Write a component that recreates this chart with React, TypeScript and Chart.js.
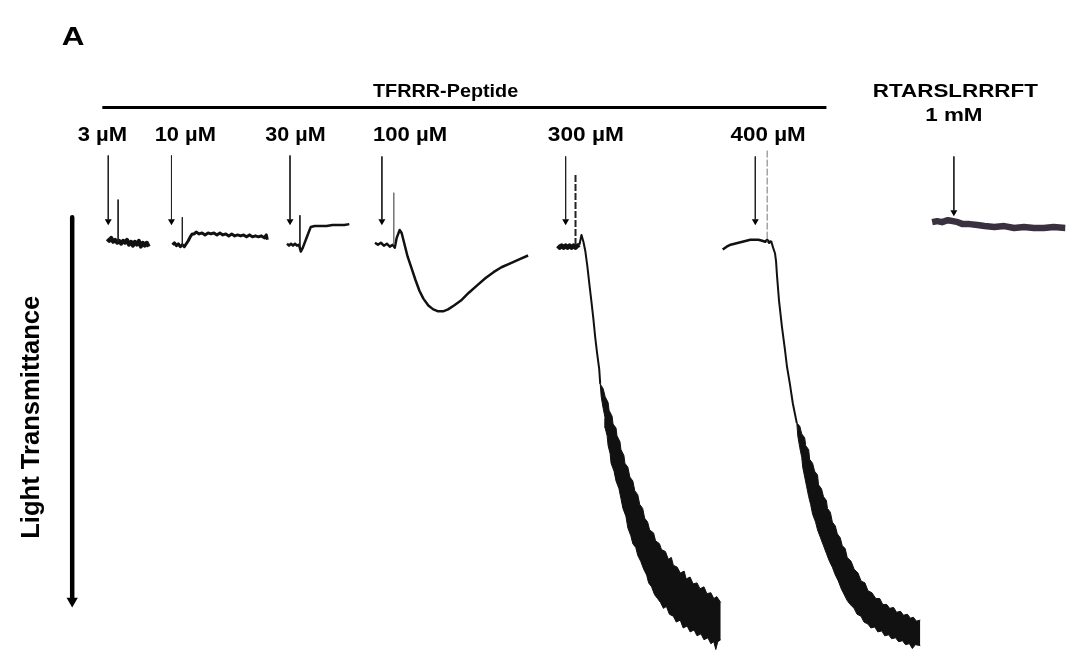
import { useEffect, useRef } from "react";
import { Chart, registerables } from "chart.js";

Chart.register(...registerables);

type P = [number, number];

// ---------- text content ----------
const panelLabel = "A";
const peptideLabel = "TFRRR-Peptide";
const doseLabels = ["3 µM", "10 µM", "30 µM", "100 µM", "300 µM", "400 µM"];
const controlLabels = ["RTARSLRRRFT", "1 mM"];
const yAxisLabel = "Light Transmittance";

// ---------- injection arrows (time, start, tip on transmittance axis) ----------
const injectionTime = [103, 167, 287, 380, 566, 758, 959];
const injectionTop = [152, 152, 152, 153, 153, 153, 153];
const injectionTip = [223, 223, 223, 223, 223, 223, 214];

// ---------- injection artefact spikes ----------
const spikeTime = [113, 178, 297, 392, 576, 770];
const spikeTop = [197, 215, 213, 190, 172, 147];
const spikeBase = [240, 245, 245, 243, 245, 240];

// ---------- peptide bar & transmittance axis ----------
const peptideBar: P[] = [[97, 103], [830, 103]];
const transmittanceAxis: P[] = [[66.5, 215], [66.5, 603]];
const transmittanceTip: P[] = [[66.5, 606.5]];

// ---------- traces (time, transmittance) ----------
const trace3uM: P[] = [
  [102, 237], [104, 239], [106, 236], [108, 240], [110, 238], [112, 241], [114, 239],
  [116, 242], [118, 239], [120, 241], [122, 238], [124, 243], [126, 240], [128, 244],
  [130, 240], [132, 243], [134, 239], [136, 245], [138, 241], [140, 244], [142, 241],
  [144, 245],
];
const trace10uM: P[] = [
  [168, 243], [170, 241], [172, 244], [174, 242], [176, 245], [178, 243], [180, 245],
  [182, 242], [184, 239], [186, 235], [188, 232], [190, 232], [192, 230], [195, 232],
  [198, 231], [201, 233], [204, 231], [207, 232], [210, 231], [213, 233], [216, 231],
  [219, 233], [222, 232], [225, 234], [228, 232], [231, 234], [234, 233], [237, 234],
  [240, 233], [243, 235], [246, 233], [249, 235], [252, 234], [255, 235], [258, 234],
  [261, 236], [263, 233], [264, 238],
];
const trace30uM: P[] = [
  [284, 242], [286, 244], [288, 242], [290, 244], [292, 242], [294, 244], [296, 243],
  [298, 250], [300, 246], [303, 238], [306, 230], [308, 225], [312, 224], [318, 224],
  [324, 224], [330, 223], [336, 223], [342, 223], [347, 222],
];
const trace100uM: P[] = [
  [373, 241], [376, 243], [379, 241], [382, 244], [385, 242], [388, 245], [391, 243],
  [393, 246], [395, 236], [398, 228], [400, 231], [403, 243], [406, 255], [410, 267],
  [414, 279], [418, 290], [422, 298], [427, 305], [432, 309], [437, 311], [442, 311],
  [447, 309], [453, 305], [460, 300], [468, 292], [477, 284], [485, 277], [493, 271],
  [501, 266], [510, 262], [519, 258], [528, 254],
];
const base300uM: P[] = [
  [558, 244], [560, 246], [562, 244], [564, 246], [566, 244], [568, 246], [570, 244],
  [572, 246], [574, 244], [576, 246], [578, 244], [580, 243],
];
const fall300uM: P[] = [
  [580, 243], [582, 233], [584, 240], [586, 250], [588, 265], [590, 283], [592, 300],
  [594, 318], [596, 338], [598, 355], [600, 370], [601, 385],
];
const band300uMUpper: P[] = [
  [601, 385], [604, 390], [606, 398], [609, 404], [610, 412], [613, 418], [614, 426],
  [617, 430], [618, 438], [621, 444], [622, 452], [625, 458], [626, 466], [629, 470],
  [631, 480], [634, 484], [636, 494], [639, 498], [641, 508], [644, 512], [646, 522],
  [649, 526], [651, 534], [655, 537], [657, 545], [661, 548], [663, 554], [667, 556],
  [670, 564], [673, 562], [675, 570], [679, 572], [682, 578], [686, 576], [688, 584],
  [692, 582], [695, 589], [699, 588], [702, 594], [706, 592], [709, 599], [713, 598],
  [716, 604], [719, 602], [723, 608],
];
const band300uMLower: P[] = [
  [601, 385], [602, 398], [604, 410], [606, 420], [606, 430], [608, 438], [609, 448],
  [611, 456], [612, 466], [615, 474], [617, 484], [620, 492], [622, 502], [624, 512],
  [627, 520], [629, 532], [632, 540], [634, 548], [637, 552], [639, 560], [642, 566],
  [645, 574], [648, 580], [650, 588], [653, 592], [656, 600], [659, 604], [662, 608],
  [665, 614], [668, 612], [671, 620], [675, 622], [678, 628], [682, 626], [685, 634],
  [689, 632], [692, 638], [696, 636], [699, 642], [703, 640], [706, 646], [710, 644],
  [713, 650], [716, 648], [718, 656], [720, 648], [723, 646],
];
const base400uM: P[] = [
  [725, 248], [729, 245], [733, 243], [737, 242], [741, 241], [745, 240], [749, 239],
  [753, 238], [757, 238], [761, 238], [765, 239], [768, 240], [770, 238], [772, 241],
  [774, 239],
];
const fall400uM: P[] = [
  [774, 239], [776, 246], [778, 252], [779, 260], [780, 275], [782, 300], [785, 327],
  [788, 350], [790, 367], [793, 385], [796, 405], [800, 425],
];
const band400uMUpper: P[] = [
  [800, 425], [803, 428], [805, 436], [808, 440], [809, 448], [812, 452], [813, 462],
  [816, 466], [818, 474], [821, 478], [822, 488], [825, 492], [827, 500], [830, 504],
  [831, 512], [834, 516], [836, 526], [839, 530], [841, 538], [844, 542], [846, 550],
  [849, 553], [851, 562], [855, 566], [858, 574], [862, 578], [865, 586], [869, 588],
  [872, 596], [876, 598], [880, 604], [884, 604], [887, 610], [891, 610], [894, 614],
  [898, 613], [901, 618], [905, 617], [908, 621], [912, 620], [915, 624], [918, 623],
  [921, 627], [925, 626],
];
const band400uMLower: P[] = [
  [800, 425], [801, 438], [803, 450], [805, 460], [806, 470], [808, 480], [810, 490],
  [812, 500], [814, 508], [816, 518], [819, 526], [821, 534], [824, 542], [827, 550],
  [830, 558], [833, 566], [836, 572], [839, 580], [842, 586], [845, 594], [848, 600],
  [851, 606], [854, 610], [858, 614], [861, 620], [865, 622], [868, 628], [872, 630],
  [875, 634], [879, 633], [882, 638], [886, 637], [889, 642], [893, 641], [896, 645],
  [900, 644], [903, 648], [907, 647], [910, 651], [914, 650], [917, 655], [920, 651],
  [925, 652],
];
const traceControl: P[] = [
  [937, 220], [942, 219], [947, 220], [953, 218], [958, 219], [963, 220], [968, 222],
  [975, 222], [983, 223], [990, 224], [1000, 225], [1010, 224], [1020, 226], [1030, 225],
  [1040, 226], [1050, 226], [1060, 225], [1072, 226],
];

const FONT = '"Liberation Sans", Arial, Helvetica, sans-serif';

const pts = (a: P[]) => a.map(([x, y]) => ({ x, y }));

const line = (a: P[], color: string, width: number, extra: any = {}) => ({
  data: pts(a),
  showLine: true,
  borderColor: color,
  backgroundColor: color,
  borderWidth: width,
  pointRadius: 0,
  fill: false,
  borderJoinStyle: "round",
  borderCapStyle: "butt",
  ...extra,
});

const textPlugin = {
  id: "figureText",
  afterDraw(chart: any) {
    const { ctx } = chart;
    const xs = chart.scales.x;
    const ys = chart.scales.y;
    const fit = (text: string, x0: number, x1: number, base: number, size: number) => {
      ctx.save();
      ctx.font = `bold ${size}px ${FONT}`;
      const w = ctx.measureText(text).width;
      const p0 = xs.getPixelForValue(x0);
      const p1 = xs.getPixelForValue(x1);
      ctx.translate(p0, ys.getPixelForValue(base));
      ctx.scale((p1 - p0) / w, 1);
      ctx.fillStyle = "#000";
      ctx.textAlign = "left";
      ctx.textBaseline = "alphabetic";
      ctx.fillText(text, 0, 0);
      ctx.restore();
    };
    fit(panelLabel, 56, 79, 39, 26);
    fit(peptideLabel, 371, 518, 92, 19);
    const doseX: [number, number][] = [
      [72, 122], [150, 212], [262, 323], [371, 446], [548, 625], [733, 809],
    ];
    doseLabels.forEach((t, i) => fit(t, doseX[i][0], doseX[i][1], 137, 20));
    fit(controlLabels[0], 877, 1044, 92, 19);
    fit(controlLabels[1], 930, 988, 117, 19);

    // rotated axis label
    ctx.save();
    ctx.font = `bold 25px ${FONT}`;
    const w = ctx.measureText(yAxisLabel).width;
    ctx.translate(xs.getPixelForValue(33), ys.getPixelForValue(543));
    ctx.rotate(-Math.PI / 2);
    ctx.scale((543 - 300) / w, 1);
    ctx.fillStyle = "#000";
    ctx.textBaseline = "alphabetic";
    ctx.fillText(yAxisLabel, 0, 0);
    ctx.restore();
  },
};

export default function App() {
  const ref = useRef<HTMLCanvasElement | null>(null);

  useEffect(() => {
    if (!ref.current) return;
    const black = "#111";
    const datasets: any[] = [];

    datasets.push(line(peptideBar, "#000", 3));
    datasets.push(line(transmittanceAxis, "#000", 4.5));
    datasets.push({
      data: pts(transmittanceTip),
      pointStyle: "triangle",
      rotation: 180,
      pointRadius: 6.5,
      backgroundColor: "#000",
      borderColor: "#000",
      borderWidth: 0,
    });
    injectionTime.forEach((t, i) => {
      datasets.push(line([[t, injectionTop[i]], [t, injectionTip[i] - 5]], "#222", 1));
    });
    datasets.push({
      data: injectionTime.map((t, i) => ({ x: t, y: injectionTip[i] - 4 })),
      pointStyle: "triangle",
      rotation: 180,
      pointRadius: 4,
      backgroundColor: "#000",
      borderColor: "#000",
      borderWidth: 0,
    });
    spikeTime.forEach((t, i) => {
      const dashed = i >= 4;
      datasets.push(
        line(
          [[t, spikeTop[i]], [t, spikeBase[i]]],
          i === 3 || i === 5 ? "#777" : "#222",
          i === 4 ? 2 : 1,
          dashed ? { borderDash: [7, 2] } : {}
        )
      );
    });
    datasets.push(line(trace3uM, black, 4));
    datasets.push(line(trace10uM, black, 3));
    datasets.push(line(trace30uM, black, 2.5));
    datasets.push(line(trace100uM, black, 2.5));
    datasets.push(line(base300uM, black, 4.5));
    datasets.push(line(fall300uM, black, 2));
    datasets.push(line(band300uMUpper, black, 1));
    datasets.push(line(band300uMLower, black, 1, { fill: "-1", backgroundColor: black }));
    datasets.push(line(base400uM, black, 2.5));
    datasets.push(line(fall400uM, black, 2));
    datasets.push(line(band400uMUpper, black, 1));
    datasets.push(line(band400uMLower, black, 1, { fill: "-1", backgroundColor: black }));
    datasets.push(line(traceControl, "#3a3140", 6.5));

    const chart = new Chart(ref.current, {
      type: "scatter",
      data: { datasets },
      options: {
        animation: false,
        responsive: false,
        devicePixelRatio: 1,
        events: [],
        layout: { padding: 0 },
        plugins: { legend: { display: false }, tooltip: { enabled: false } },
        scales: {
          x: { type: "linear", min: 0, max: 1072, display: false },
          y: { type: "linear", min: 0, max: 658, reverse: true, display: false },
        },
      },
      plugins: [textPlugin],
    } as any);
    return () => chart.destroy();
  }, []);

  return (
    <div style={{ position: "absolute", left: 0, top: 0, width: 1072, height: 658, background: "#fff" }}>
      <canvas ref={ref} width={1072} height={658} style={{ display: "block" }} />
    </div>
  );
}
